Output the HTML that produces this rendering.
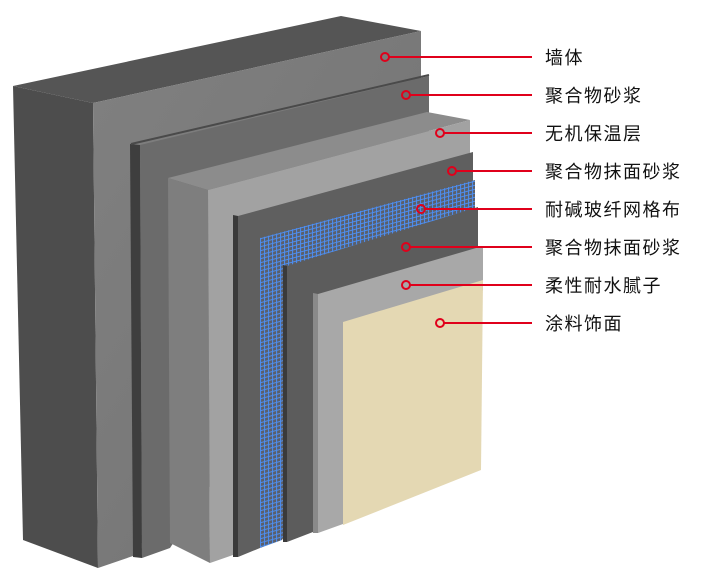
<!DOCTYPE html>
<html><head><meta charset="utf-8"><style>
html,body{margin:0;padding:0;background:#fff;}
svg{display:block;}
text{font-family:"Liberation Sans","Noto Sans CJK SC",sans-serif;font-size:18px;fill:#111;letter-spacing:1.5px;}
</style></head><body>
<svg width="725" height="580" viewBox="0 0 725 580" xmlns="http://www.w3.org/2000/svg">
<defs>
<pattern id="mesh" width="4" height="4" patternUnits="userSpaceOnUse" patternTransform="skewY(-15)">
<rect width="4" height="4" fill="#5a5f6a"/>
<path d="M0 0.5H4M0.5 0V4" stroke="#4d8ef0" stroke-width="1"/>
</pattern>
<linearGradient id="wf" x1="0" y1="0" x2="1" y2="1"><stop offset="0" stop-color="#808080"/><stop offset="1" stop-color="#727272"/></linearGradient>
</defs>
<!-- wall -->
<polygon points="13,86 341,16 421,31 93,103" fill="#555"/>
<polygon points="13,86 93,103 98,568 23,540" fill="#4d4d4d"/>
<polygon points="93,103 421,31 421,120 133,556 98,568" fill="url(#wf)"/>
<!-- layer 2 -->
<polygon points="130,144 140,145 142,558 133,557" fill="#3e3e3e"/>
<polygon points="140,145 429,76 429,150 170,548 142,558" fill="#6b6b6b"/>
<polyline points="131,144 429,75" stroke="#4a4a4a" stroke-width="2" fill="none"/>
<!-- layer 3 -->
<polygon points="168,178 427,112 470,120 208,190" fill="#8c8c8c"/>
<polygon points="168,178 208,190 210,563 170,543" fill="#7e7e7e"/>
<polygon points="208,190 470,120 470,170 233,555 210,563" fill="#a2a2a2"/>
<!-- layer 4 -->
<polygon points="233,215 238,216 238,557 233,557" fill="#3a3a3a"/>
<polygon points="238,216 473,152 473,200 260,548 238,557" fill="#5f5f5f"/>
<!-- mesh -->
<polygon points="260,238 475,180 475,230 282,540 260,548" fill="url(#mesh)"/>
<!-- layer 6 -->
<polygon points="283,265 287,266 287,542 283,542" fill="#3a3a3a"/>
<polygon points="287,266 478,207 478,260 313,532 287,542" fill="#5c5c5c"/>
<!-- layer 7 -->
<polygon points="313,293 318,294 318,533 313,533" fill="#8a8a8a"/>
<polygon points="318,294 483,246 483,290 343,524 318,533" fill="#a8a8a8"/>
<!-- beige -->
<polygon points="343,322 483,280 481,470 343,525" fill="#e4d8b3"/>
<!-- callouts -->
<g stroke="#e0001b" stroke-width="2" fill="none">
<line x1="389" y1="57" x2="532" y2="57"/><circle cx="385" cy="57" r="4"/>
<line x1="410" y1="95" x2="532" y2="95"/><circle cx="406" cy="95" r="4"/>
<line x1="444" y1="133" x2="532" y2="133"/><circle cx="440" cy="133" r="4"/>
<line x1="456" y1="171" x2="532" y2="171"/><circle cx="452" cy="171" r="4"/>
<line x1="425" y1="209" x2="532" y2="209"/><circle cx="421" cy="209" r="4"/>
<line x1="410" y1="247" x2="532" y2="247"/><circle cx="406" cy="247" r="4"/>
<line x1="410" y1="285" x2="532" y2="285"/><circle cx="406" cy="285" r="4"/>
<line x1="444" y1="323" x2="532" y2="323"/><circle cx="440" cy="323" r="4"/>
</g>
<text x="545" y="64">墙体</text>
<text x="545" y="102">聚合物砂浆</text>
<text x="545" y="140">无机保温层</text>
<text x="545" y="178">聚合物抹面砂浆</text>
<text x="545" y="216">耐碱玻纤网格布</text>
<text x="545" y="254">聚合物抹面砂浆</text>
<text x="545" y="292">柔性耐水腻子</text>
<text x="545" y="330">涂料饰面</text>
</svg>
</body></html>
